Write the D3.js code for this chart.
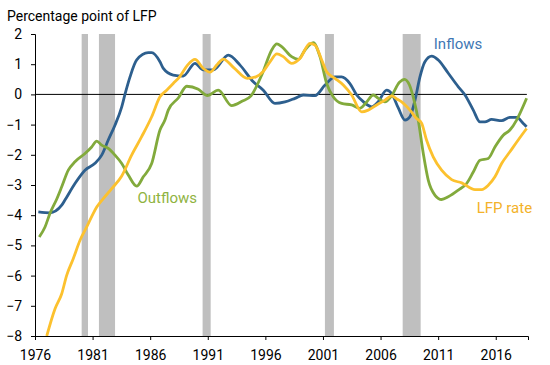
<!DOCTYPE html>
<html><head><meta charset="utf-8">
<script src="https://cdn.jsdelivr.net/npm/d3@7"></script>
<style>body{margin:0;background:#fff;}svg{display:block;font-family:Roboto,sans-serif;}</style>
</head><body><svg id="c" width="550" height="365"></svg>
<script>
const xTicks = [1976,1981,1986,1991,1996,2001,2006,2011,2016];
const yTicks = [2,1,0,-1,-2,-3,-4,-5,-6,-7,-8];
const recessions = [[1980.05,1980.6],[1981.55,1982.95],[1990.55,1991.25],[2001.17,2001.95],[2007.92,2009.48]];

const inflowYears = [1976.29,1977.3,1978.32,1978.6,1979.47,1980.34,1981.21,1981.79,1982.36,1982.94,1983.53,1983.81,1984.25,1984.83,1985.83,1986.13,1986.85,1987.14,1988.0,1988.87,1989.89,1990.61,1991.48,1992.78,1993.8,1994.95,1995.82,1996.83,1997.7,1998.57,1999.29,2000.31,2001.18,2002.04,2002.62,2003.34,2003.93,2004.5,2005.23,2005.8,2006.53,2006.96,2007.54,2008.12,2008.55,2008.99,2009.42,2009.85,2010.44,2011.01,2011.88,2012.75,2013.33,2014.05,2014.63,2015.06,2015.64,2016.51,2017.23,2017.81,2018.39,2018.68];
const inflowValues = [-3.89,-3.92,-3.67,-3.5,-2.95,-2.51,-2.28,-2.01,-1.51,-1.02,-0.41,0.0,0.58,1.14,1.38,1.38,1.08,0.86,0.64,0.61,1.03,0.81,0.81,1.3,0.97,0.42,0.14,-0.3,-0.25,-0.13,-0.02,-0.04,0.31,0.58,0.58,0.36,-0.02,-0.24,-0.41,-0.24,0.14,0.03,-0.45,-0.85,-0.74,-0.19,0.58,1.08,1.27,1.14,0.7,0.25,-0.02,-0.52,-0.91,-0.91,-0.83,-0.87,-0.76,-0.76,-0.96,-1.07];

const outflowYears = [1976.37,1976.87,1977.3,1977.88,1978.32,1978.89,1979.47,1980.34,1980.92,1981.36,1981.79,1982.36,1982.94,1983.53,1984.1,1984.83,1985.4,1986.13,1986.85,1987.28,1987.57,1988.44,1989.17,1990.18,1990.97,1991.91,1993.07,1993.97,1994.75,1995.75,1996.55,1997.0,1997.42,1998.28,1998.86,1999.44,2000.16,2000.74,2001.32,2001.89,2002.62,2003.49,2004.21,2004.79,2005.37,2005.8,2006.38,2006.95,2007.64,2008.08,2008.51,2008.94,2009.27,2009.71,2010.14,2010.73,2011.3,2011.88,2012.75,2013.47,2014.05,2014.63,2015.35,2015.93,2016.65,2017.23,2017.81,2018.1,2018.68];
const outflowValues = [-4.72,-4.39,-3.94,-3.47,-3.06,-2.51,-2.23,-1.96,-1.74,-1.55,-1.68,-1.79,-2.01,-2.29,-2.67,-3.04,-2.73,-2.29,-1.18,-0.85,-0.52,-0.12,0.27,0.17,-0.04,0.14,-0.37,-0.23,-0.05,0.7,1.47,1.67,1.58,1.25,1.16,1.47,1.71,1.25,0.36,-0.08,-0.3,-0.35,-0.46,-0.25,-0.02,-0.13,-0.25,-0.05,0.4,0.5,0.31,-0.25,-0.85,-1.96,-2.84,-3.34,-3.48,-3.39,-3.17,-2.95,-2.57,-2.18,-2.12,-1.74,-1.35,-1.18,-0.85,-0.63,-0.13];

const lfpYears = [1977.02,1977.74,1978.32,1978.75,1979.32,1979.91,1980.49,1981.06,1981.36,1981.93,1982.66,1983.53,1984.39,1985.26,1986.13,1986.85,1987.43,1988.0,1988.59,1989.24,1989.89,1990.61,1991.19,1991.84,1992.35,1993.27,1994.44,1995.18,1995.79,1996.4,1997.0,1997.55,1998.28,1999.0,1999.87,2000.31,2000.89,2001.32,2002.04,2002.76,2003.49,2004.36,2004.93,2005.66,2006.38,2006.96,2007.4,2007.83,2008.55,2009.13,2009.56,2009.99,2010.57,2011.3,2012.17,2013.04,2014.2,2014.78,2015.35,2015.93,2016.51,2017.23,2017.95,2018.68];
const lfpValues = [-8.0,-7.1,-6.6,-5.99,-5.44,-4.83,-4.39,-3.94,-3.73,-3.45,-3.12,-2.7,-2.01,-1.4,-0.74,-0.08,0.14,0.36,0.6,0.97,1.16,0.86,0.74,1.0,1.17,0.88,0.53,0.58,0.75,1.08,1.34,1.25,1.03,1.19,1.69,1.63,1.14,0.75,0.53,0.31,-0.02,-0.58,-0.52,-0.35,-0.19,-0.05,-0.15,-0.25,-0.52,-0.8,-0.95,-1.51,-2.07,-2.51,-2.82,-2.93,-3.15,-3.15,-3.01,-2.73,-2.29,-1.9,-1.51,-1.13];

const seriesNames = ["Inflows","Outflows","LFP rate"];

const svg = d3.select("#c");
const x = d3.scaleLinear().domain([1976, 2018.8]).range([35, 528]);
const y = d3.scaleLinear().domain([-8, 2]).range([336, 34]);

// recession bars
svg.append("g").selectAll("rect").data(recessions).join("rect")
  .attr("x", d => x(d[0])).attr("width", d => x(d[1]) - x(d[0]))
  .attr("y", y(2)).attr("height", y(-8) - y(2)).attr("fill", "#bfbfbf");

// zero line
svg.append("line").attr("x1", x(1976)).attr("x2", x(2018.7)).attr("y1", y(0)).attr("y2", y(0))
  .attr("stroke", "#000").attr("stroke-width", 1);

const line = d3.line().x(d => x(d[0])).y(d => y(d[1])).curve(d3.curveMonotoneX);
const series = [
  {name: seriesNames[0], years: inflowYears, vals: inflowValues, color: "#2d5f8e", lab: "#3f77b4", lx: 2010.62, ly: 1.5},
  {name: seriesNames[1], years: outflowYears, vals: outflowValues, color: "#82aa3c", lab: "#8fb33f", lx: 1984.9, ly: -3.6},
  {name: seriesNames[2], years: lfpYears, vals: lfpValues, color: "#fcc12e", lab: "#f3b22a", lx: 2014.35, ly: -3.94}
];
series.forEach(s => {
  const pts = s.years.map((yr, i) => [yr, s.vals[i]]);
  svg.append("path").datum(pts).attr("d", line).attr("fill", "none")
    .attr("stroke", s.color).attr("stroke-width", 2.8).attr("stroke-linejoin", "round");
});
series.forEach(s => {
  svg.append("text").attr("x", x(s.lx)).attr("y", y(s.ly)).text(s.name)
    .attr("fill", s.lab).attr("font-size", 15);
});

// axes
const yAxis = svg.append("g").attr("transform", "translate(35,0)")
  .call(d3.axisLeft(y).tickValues(yTicks).tickSize(4).tickPadding(9).tickFormat(d3.format("d")));
const xAxis = svg.append("g").attr("transform", "translate(0,336)")
  .call(d3.axisBottom(x).tickValues(xTicks).tickSize(4).tickPadding(10).tickFormat(d3.format("d")));
[yAxis, xAxis].forEach(g => {
  g.select(".domain").attr("stroke", "#000");
  g.selectAll(".tick line").attr("stroke", "#000");
  g.selectAll(".tick text").attr("fill", "#000").attr("font-size", 14).attr("font-family", "Roboto, sans-serif");
});

svg.append("text").attr("x", 7).attr("y", 21).text("Percentage point of LFP")
  .attr("font-size", 14).attr("fill", "#000");
</script></body></html>
